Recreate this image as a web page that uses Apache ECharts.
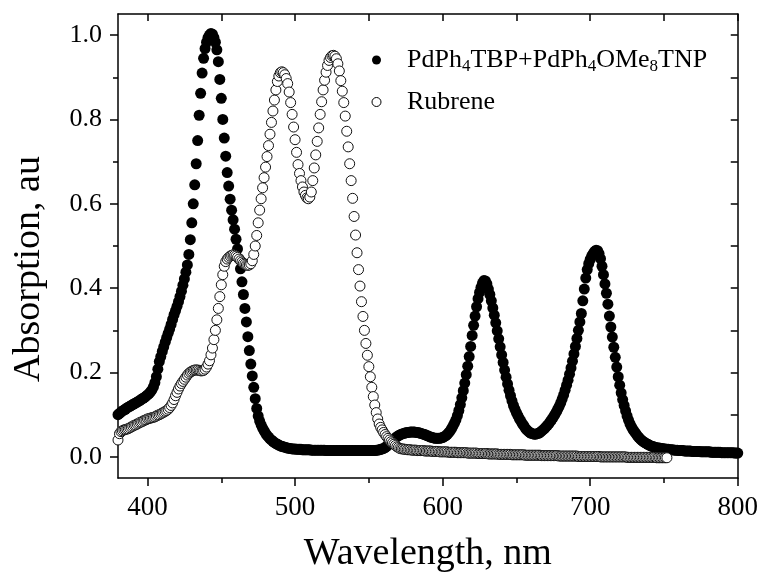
<!DOCTYPE html>
<html>
<head>
<meta charset="utf-8">
<script src="https://cdn.jsdelivr.net/npm/echarts@6/dist/echarts.min.js"></script>
<style>
html,body{margin:0;padding:0;background:#fff;}
#chart{width:761px;height:578px;}
</style>
</head>
<body>
<div id="chart"></div>
<script>
// ---- data (absorption, 1 nm grid) ----
const seriesNames = ['PdPh4TBP+PdPh4OMe8TNP', 'Rubrene'];
const blackStartNm = 380;
const blackValues = [
0.100,0.103,0.106,0.109,0.111,0.113,0.116,0.118,0.120,0.122,
0.124,0.126,0.128,0.130,0.132,0.134,0.137,0.139,0.141,0.144,
0.147,0.150,0.154,0.159,0.166,0.176,0.190,0.208,0.226,0.238,
0.250,0.261,0.272,0.283,0.293,0.303,0.314,0.326,0.337,0.347,
0.357,0.368,0.380,0.393,0.407,0.422,0.438,0.455,0.480,0.515,
0.555,0.600,0.645,0.695,0.750,0.810,0.862,0.910,0.945,0.968,
0.983,0.994,1.000,1.004,1.002,0.994,0.983,0.965,0.937,0.895,
0.850,0.800,0.756,0.713,0.674,0.642,0.611,0.585,0.562,0.540,
0.516,0.493,0.470,0.446,0.415,0.385,0.352,0.320,0.285,0.252,
0.220,0.192,0.165,0.138,0.115,0.097,0.085,0.076,0.068,0.062,
0.056,0.051,0.047,0.043,0.040,0.037,0.034,0.032,0.030,0.028,
0.026,0.025,0.024,0.023,0.022,0.021,0.020,0.020,0.019,0.019,
0.019,0.018,0.018,0.018,0.018,0.017,0.017,0.017,0.017,0.017,
0.017,0.016,0.016,0.016,0.016,0.016,0.016,0.016,0.016,0.016,
0.016,0.015,0.015,0.015,0.015,0.015,0.015,0.015,0.015,0.015,
0.015,0.015,0.015,0.015,0.015,0.015,0.015,0.015,0.015,0.015,
0.015,0.015,0.015,0.015,0.015,0.015,0.015,0.015,0.015,0.015,
0.015,0.015,0.015,0.015,0.015,0.016,0.016,0.017,0.018,0.019,
0.020,0.022,0.025,0.028,0.031,0.035,0.038,0.042,0.045,0.048,
0.050,0.052,0.054,0.055,0.056,0.057,0.058,0.058,0.059,0.059,
0.059,0.059,0.058,0.058,0.057,0.056,0.055,0.054,0.053,0.051,
0.050,0.048,0.047,0.046,0.045,0.044,0.044,0.044,0.044,0.045,
0.046,0.048,0.050,0.053,0.057,0.061,0.067,0.073,0.080,0.088,
0.098,0.110,0.124,0.140,0.157,0.175,0.195,0.215,0.238,0.262,
0.288,0.312,0.334,0.356,0.375,0.390,0.402,0.412,0.418,0.417,
0.410,0.398,0.385,0.370,0.353,0.336,0.318,0.299,0.280,0.261,
0.242,0.224,0.206,0.189,0.173,0.158,0.145,0.133,0.122,0.113,
0.105,0.098,0.091,0.085,0.079,0.074,0.068,0.064,0.061,0.058,
0.056,0.055,0.054,0.054,0.055,0.056,0.058,0.061,0.064,0.067,
0.071,0.075,0.079,0.084,0.089,0.094,0.100,0.106,0.113,0.120,
0.128,0.137,0.147,0.158,0.170,0.182,0.196,0.211,0.227,0.244,
0.262,0.281,0.300,0.320,0.340,0.370,0.398,0.424,0.444,0.458,
0.468,0.476,0.482,0.487,0.490,0.489,0.482,0.470,0.452,0.432,
0.410,0.388,0.362,0.334,0.308,0.284,0.260,0.236,0.213,0.190,
0.170,0.152,0.136,0.122,0.109,0.097,0.087,0.078,0.071,0.065,
0.060,0.055,0.050,0.046,0.042,0.039,0.036,0.034,0.032,0.030,
0.028,0.026,0.025,0.024,0.023,0.022,0.021,0.021,0.020,0.020,
0.019,0.019,0.018,0.018,0.017,0.017,0.017,0.016,0.016,0.016,
0.015,0.015,0.015,0.015,0.014,0.014,0.014,0.014,0.014,0.013,
0.013,0.013,0.013,0.013,0.013,0.012,0.012,0.012,0.012,0.012,
0.012,0.012,0.011,0.011,0.011,0.011,0.011,0.011,0.011,0.010,
0.010,0.010,0.010,0.010,0.010,0.010,0.010,0.010,0.009,0.009,
0.009
];
const rubreneStartNm = 380;
const rubreneValues = [
0.040,0.055,0.060,0.062,0.064,0.065,0.066,0.067,0.069,0.071,
0.073,0.075,0.076,0.078,0.080,0.082,0.083,0.085,0.087,0.088,
0.090,0.091,0.092,0.093,0.094,0.095,0.097,0.099,0.100,0.102,
0.104,0.106,0.108,0.110,0.113,0.117,0.122,0.128,0.136,0.145,
0.153,0.161,0.168,0.174,0.179,0.184,0.189,0.194,0.198,0.201,
0.203,0.205,0.206,0.206,0.206,0.205,0.204,0.204,0.205,0.208,
0.213,0.220,0.228,0.242,0.258,0.278,0.300,0.325,0.352,0.380,
0.408,0.432,0.452,0.463,0.469,0.473,0.476,0.478,0.479,0.478,
0.476,0.473,0.469,0.465,0.462,0.459,0.457,0.455,0.454,0.455,
0.458,0.465,0.480,0.500,0.525,0.555,0.585,0.612,0.638,0.662,
0.687,0.712,0.738,0.765,0.793,0.820,0.846,0.870,0.890,0.903,
0.911,0.913,0.911,0.906,0.897,0.885,0.865,0.840,0.812,0.782,
0.752,0.722,0.693,0.672,0.655,0.640,0.628,0.620,0.614,0.612,
0.616,0.628,0.655,0.685,0.716,0.748,0.780,0.812,0.842,0.870,
0.893,0.912,0.928,0.940,0.947,0.951,0.952,0.950,0.944,0.932,
0.915,0.892,0.867,0.840,0.808,0.772,0.735,0.695,0.655,0.613,
0.570,0.526,0.484,0.444,0.405,0.368,0.333,0.300,0.269,0.241,
0.214,0.190,0.165,0.143,0.123,0.105,0.090,0.078,0.070,0.064,
0.058,0.053,0.048,0.044,0.040,0.036,0.033,0.030,0.027,0.024,
0.022,0.020,0.019,0.019,0.018,0.018,0.017,0.017,0.017,0.016,
0.016,0.016,0.016,0.015,0.015,0.015,0.015,0.015,0.014,0.014,
0.014,0.014,0.014,0.013,0.013,0.013,0.013,0.013,0.012,0.012,
0.012,0.012,0.012,0.012,0.011,0.011,0.011,0.011,0.011,0.011,
0.010,0.010,0.010,0.010,0.010,0.010,0.010,0.009,0.009,0.009,
0.009,0.009,0.009,0.009,0.008,0.008,0.008,0.008,0.008,0.008,
0.008,0.007,0.007,0.007,0.007,0.007,0.007,0.007,0.006,0.006,
0.006,0.006,0.006,0.006,0.006,0.006,0.006,0.005,0.005,0.005,
0.005,0.005,0.005,0.005,0.005,0.005,0.004,0.004,0.004,0.004,
0.004,0.004,0.004,0.004,0.004,0.004,0.004,0.003,0.003,0.003,
0.003,0.003,0.003,0.003,0.003,0.003,0.003,0.003,0.003,0.002,
0.002,0.002,0.002,0.002,0.002,0.002,0.002,0.002,0.002,0.002,
0.002,0.002,0.001,0.001,0.001,0.001,0.001,0.001,0.001,0.001,
0.001,0.001,0.001,0.001,0.001,0.001,0.001,0.000,0.000,0.000,
0.000,0.000,0.000,0.000,0.000,0.000,0.000,0.000,0.000,0.000,
0.000,0.000,0.000,0.000,0.000,-0.001,-0.001,-0.001,-0.001,-0.001,
-0.001,-0.001,-0.001,-0.001,-0.001,-0.001,-0.001,-0.001,-0.001,-0.001,
-0.001,-0.001,-0.001,-0.001,-0.001,-0.002,-0.002,-0.002,-0.002,-0.002,
-0.002,-0.002,-0.002
];
const xMajorTicks = [400, 500, 600, 700, 800];
const xMinorTicks = [450, 550, 650, 750];
const xTopTicks = [400, 450, 500, 550, 600, 650, 700, 750, 800];
const yMajorTicks = [0.0, 0.2, 0.4, 0.6, 0.8, 1.0];
const yMinorTicks = [0.1, 0.3, 0.5, 0.7, 0.9];
const yRightTicks = [0.0, 0.1, 0.2, 0.3, 0.4, 0.5, 0.6, 0.7, 0.8, 0.9, 1.0];
const xTitle = 'Wavelength, nm';
const yTitle = 'Absorption, au';

// ---- chart ----
const FONT = 'Liberation Serif';
const blackPts = blackValues.map((v, i) => [blackStartNm + i, v]);
const rubrenePts = rubreneValues.map((v, i) => [rubreneStartNm + i, v]);
const X_MIN = 380, X_MAX = 800, Y_MIN = -0.05, Y_MAX = 1.05;
const lineStyle = { color: '#000', width: 1.5 };

const chart = echarts.init(document.getElementById('chart'), null, { renderer: 'canvas' });
chart.setOption({
  animation: false,
  backgroundColor: '#fff',
  grid: { left: 118, right: 23, top: 14, bottom: 99, containLabel: false },
  legend: {
    orient: 'vertical', left: 371.5, top: 45, padding: 0,
    itemWidth: 9, itemHeight: 9, itemGap: 12,
    selectedMode: false,
    textStyle: {
      fontFamily: FONT, fontSize: 26, color: '#000', lineHeight: 30,
      padding: [0, 0, 0, 21],
      rich: { sub: { fontFamily: FONT, fontSize: 17, color: '#000', lineHeight: 14, verticalAlign: 'bottom' } }
    },
    formatter: function (name) {
      if (name === seriesNames[0]) return 'PdPh{sub|4}TBP+PdPh{sub|4}OMe{sub|8}TNP';
      return name;
    },
    data: [
      { name: seriesNames[0], icon: 'circle', itemStyle: { color: '#000', borderWidth: 0 } },
      { name: seriesNames[1], icon: 'circle', itemStyle: { color: '#fff', borderColor: '#000', borderWidth: 1 } }
    ]
  },
  xAxis: [
    { type: 'value', position: 'bottom', min: X_MIN, max: X_MAX,
      name: xTitle, nameLocation: 'middle', nameGap: 57,
      nameTextStyle: { fontFamily: FONT, fontSize: 38, color: '#000' },
      axisLine: { show: true, onZero: false, lineStyle: lineStyle },
      axisTick: { show: true, inside: false, length: 8, lineStyle: lineStyle, customValues: xMajorTicks },
      axisLabel: { show: true, margin: 16, fontFamily: FONT, fontSize: 27, color: '#000', customValues: xMajorTicks },
      splitLine: { show: false } },
    { type: 'value', position: 'bottom', min: X_MIN, max: X_MAX,
      axisLine: { show: false, onZero: false },
      axisTick: { show: true, inside: false, length: 5, lineStyle: lineStyle, customValues: xMinorTicks },
      axisLabel: { show: false }, splitLine: { show: false } },
    { type: 'value', position: 'top', min: X_MIN, max: X_MAX,
      axisLine: { show: true, onZero: false, lineStyle: lineStyle },
      axisTick: { show: true, inside: true, length: 7, lineStyle: lineStyle, customValues: xTopTicks },
      axisLabel: { show: false }, splitLine: { show: false } }
  ],
  yAxis: [
    { type: 'value', position: 'left', min: Y_MIN, max: Y_MAX,
      name: yTitle, nameLocation: 'middle', nameGap: 70, nameRotate: 90,
      nameTextStyle: { fontFamily: FONT, fontSize: 38, color: '#000', padding: [0, 46, 0, 0] },
      axisLine: { show: true, onZero: false, lineStyle: lineStyle },
      axisTick: { show: true, inside: false, length: 8, lineStyle: lineStyle, customValues: yMajorTicks },
      axisLabel: { show: true, margin: 16, fontFamily: FONT, fontSize: 26, color: '#000',
        customValues: yMajorTicks, formatter: v => Number(v).toFixed(1) },
      splitLine: { show: false } },
    { type: 'value', position: 'left', min: Y_MIN, max: Y_MAX,
      axisLine: { show: false, onZero: false },
      axisTick: { show: true, inside: false, length: 5, lineStyle: lineStyle, customValues: yMinorTicks },
      axisLabel: { show: false }, splitLine: { show: false } },
    { type: 'value', position: 'right', min: Y_MIN, max: Y_MAX,
      axisLine: { show: true, onZero: false, lineStyle: lineStyle },
      axisTick: { show: true, inside: true, length: 7, lineStyle: lineStyle, customValues: yRightTicks },
      axisLabel: { show: false }, splitLine: { show: false } }
  ],
  series: [
    { name: seriesNames[0], type: 'scatter', xAxisIndex: 0, yAxisIndex: 0,
      symbol: 'circle', symbolSize: 11, data: blackPts, z: 2,
      itemStyle: { color: '#000', opacity: 1 }, emphasis: { disabled: true } },
    { name: seriesNames[1], type: 'scatter', xAxisIndex: 0, yAxisIndex: 0,
      symbol: 'circle', symbolSize: 10, data: rubrenePts, z: 3,
      itemStyle: { color: '#fff', borderColor: '#111', borderWidth: 1, opacity: 1 }, emphasis: { disabled: true } }
  ]
});
</script>
</body>
</html>
